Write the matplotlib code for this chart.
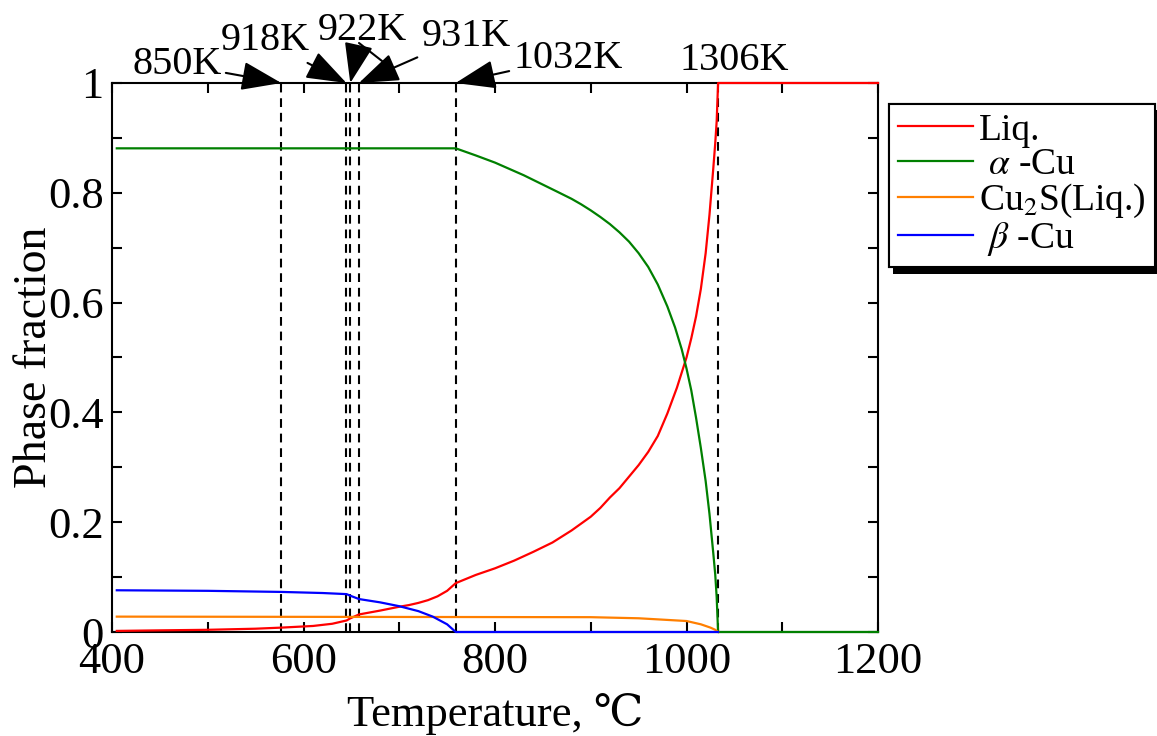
import matplotlib
matplotlib.use("Agg")
import matplotlib.pyplot as plt
import matplotlib.patheffects as pe
from matplotlib.ticker import MultipleLocator, FuncFormatter

plt.rcParams["font.family"] = ["Liberation Serif", "DejaVu Serif"]
plt.rcParams["mathtext.fontset"] = "stix"

# Phase fractions versus temperature (deg C)
liq_T = [405, 450, 500, 550, 577, 610, 630, 645, 649, 658, 680, 700, 710, 720, 730, 740,
         750, 759, 780, 800, 820, 840, 860, 880, 900, 910, 920, 930, 940, 950, 960, 970,
         980, 990, 1000, 1005, 1010, 1015, 1020, 1024, 1028, 1030, 1031.5, 1033, 1200]
liq_y = [0.002, 0.003, 0.004, 0.006, 0.008, 0.011, 0.015, 0.021, 0.025, 0.032, 0.039,
         0.046, 0.049, 0.053, 0.058, 0.065, 0.075, 0.089, 0.104, 0.116, 0.130, 0.146,
         0.163, 0.185, 0.210, 0.226, 0.245, 0.262, 0.283, 0.304, 0.328, 0.357, 0.398,
         0.445, 0.500, 0.535, 0.575, 0.625, 0.690, 0.760, 0.845, 0.890, 0.930, 1.0, 1.0]

alpha_T = [405, 759, 780, 800, 830, 865, 880, 890, 900, 910, 920, 930, 940, 950, 960,
           970, 980, 988, 995, 1000, 1005, 1010, 1015, 1020, 1024, 1028, 1030, 1031.5,
           1033, 1200]
alpha_y = [0.881, 0.881, 0.868, 0.855, 0.832, 0.802, 0.789, 0.779, 0.768, 0.756, 0.743,
           0.728, 0.711, 0.690, 0.665, 0.633, 0.593, 0.555, 0.515, 0.480, 0.440, 0.390,
           0.335, 0.275, 0.215, 0.143, 0.105, 0.064, 0.0, 0.0]

cu2s_T = [405, 900, 950, 980, 1000, 1015, 1025, 1030, 1033]
cu2s_y = [0.028, 0.027, 0.025, 0.022, 0.020, 0.014, 0.008, 0.004, 0.0]

beta_T = [405, 500, 577, 620, 645, 649, 658, 680, 700, 720, 735, 750, 759, 1033]
beta_y = [0.076, 0.075, 0.073, 0.071, 0.069, 0.066, 0.060, 0.054, 0.047, 0.038, 0.028,
          0.014, 0.0, 0.0]

# Transition temperatures (K)
transitions_K = [850, 918, 922, 931, 1032, 1306]

fig = plt.figure(figsize=(11.57, 7.36), dpi=100)
ax = fig.add_axes([112 / 1157, 104 / 736, 766 / 1157, 549 / 736])

line_kw = dict(lw=1.6, clip_on=False, zorder=4)
ax.plot(liq_T, liq_y, color="#ff0000", label="Liq.", **line_kw)
ax.plot(alpha_T, alpha_y, color="#008000", label=r" $\alpha$ -Cu", **line_kw)
ax.plot(cu2s_T, cu2s_y, color="#ff7f00", label=r"Cu$_2$S(Liq.)", **line_kw)
ax.plot(beta_T, beta_y, color="#0000ff", label=r" $\beta$ -Cu", **line_kw)

trans_C = [k - 273.15 for k in transitions_K]
for t in trans_C:
    ax.axvline(t, color="black", lw=1.5, dashes=(4.2, 2.8), zorder=2)

ax.set_xlim(400, 1200)
ax.set_ylim(0, 1)
ax.xaxis.set_major_locator(MultipleLocator(200))
ax.xaxis.set_minor_locator(MultipleLocator(100))
ax.yaxis.set_major_locator(MultipleLocator(0.2))
ax.yaxis.set_minor_locator(MultipleLocator(0.1))
ax.yaxis.set_major_formatter(FuncFormatter(lambda v, p: "%g" % round(v, 2)))
ax.tick_params(which="both", direction="in", top=True, right=True,
               length=7, width=1.5, labelsize=32)
ax.tick_params(axis="x", pad=7)
ax.tick_params(axis="y", pad=6)
for s in ax.spines.values():
    s.set_linewidth(1.5)

ax.set_xlabel("Temperature, ℃", fontsize=32, labelpad=8)
ax.set_ylabel("Phase fraction", fontsize=33, labelpad=-6)

# Transition labels with arrows to the top of each dashed line
label_pos = [(177, 64), (265, 41), (362, 30), (466, 36), (568, 58), (734, 60)]
with_arrow = [True, True, True, True, True, False]
H = 736
for k, t, (px, py), arr in zip(transitions_K, trans_C, label_pos, with_arrow):
    props = None
    if arr:
        props = dict(arrowstyle="-|>,head_length=1.25,head_width=0.45",
                     mutation_scale=20, lw=1.5, color="black",
                     shrinkA=1, shrinkB=0)
    ax.annotate("%dK" % k, xy=(t, 1.0), xycoords="data",
                xytext=(px, H - py), textcoords="figure pixels",
                ha="center", va="center", fontsize=29,
                arrowprops=props, annotation_clip=False)

# short leader stroke beside the 922K label
ax.annotate("", xy=(382, H - 61), xycoords="figure pixels",
            xytext=(359, H - 43), textcoords="figure pixels",
            arrowprops=dict(arrowstyle="-", lw=1.5, color="black",
                            shrinkA=0, shrinkB=0))

leg = ax.legend(loc="upper left", bbox_to_anchor=(889 / 1157, (H - 104) / H),
                bbox_transform=fig.transFigure, borderaxespad=0,
                fontsize=27, frameon=True, fancybox=False, framealpha=1,
                edgecolor="black", handlelength=2.0, handletextpad=0.17,
                labelspacing=0.0, borderpad=0.24)
leg.get_frame().set_linewidth(1.5)
leg.get_frame().set_path_effects([
    pe.withSimplePatchShadow(offset=(3, -4.5), shadow_rgbFace="black", alpha=1.0),
    pe.Normal()])
for h in leg.get_lines():
    h.set_linewidth(1.6)

fig.savefig("out.png", dpi=100)
